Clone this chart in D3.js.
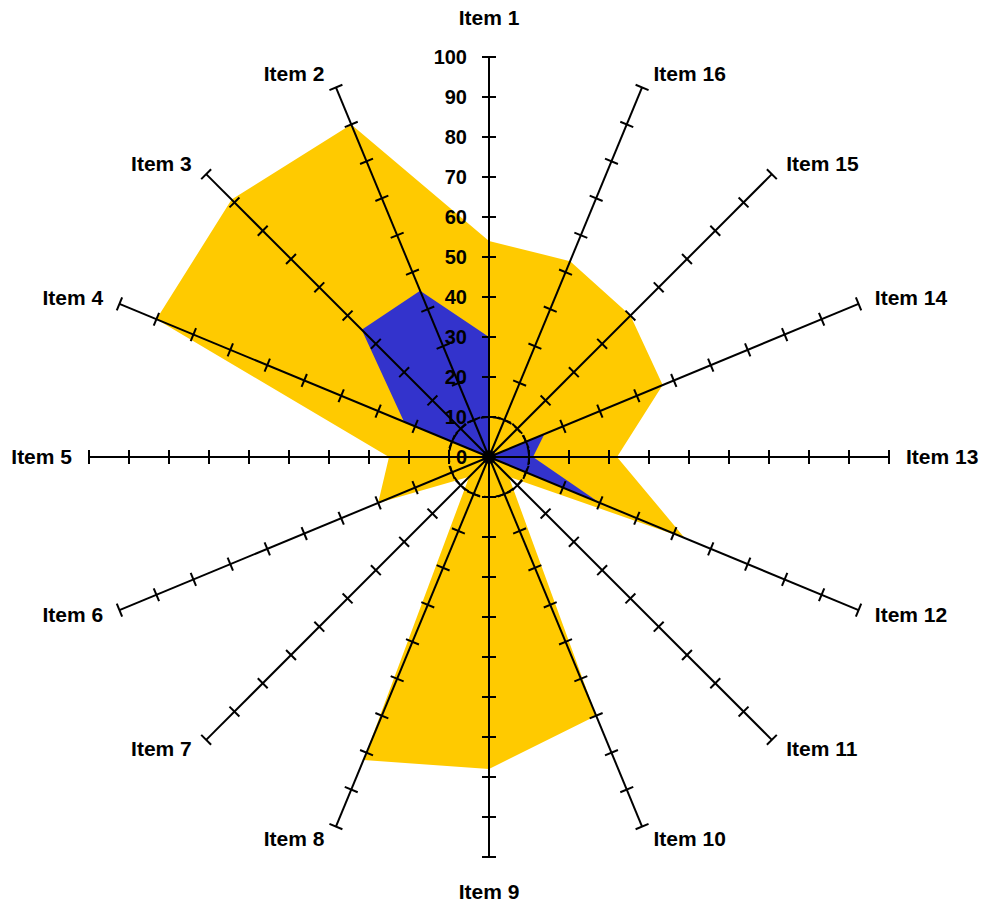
<!DOCTYPE html>
<html>
<head>
<meta charset="utf-8">
<script src="https://cdn.jsdelivr.net/npm/d3@7"></script>
<style>
  html, body { margin: 0; padding: 0; background: #fff; }
  svg { display: block; }
  text { font-family: "Liberation Sans", Arial, sans-serif; font-weight: bold; fill: #000; }
</style>
</head>
<body>
<svg id="chart" width="984" height="902"></svg>
<script>
const categories = ["Item 1","Item 2","Item 3","Item 4","Item 5","Item 6","Item 7","Item 8",
                    "Item 9","Item 10","Item 11","Item 12","Item 13","Item 14","Item 15","Item 16"];
const seriesYellow = [54, 90, 91, 90, 25, 30, 7, 82, 78, 70, 7, 53, 32, 47, 50, 53];
const seriesBlue   = [30, 45, 45, 23, 0, 0, 0, 0, 0, 0, 0, 30, 11, 15, 0, 0];
const tickValues = [0, 10, 20, 30, 40, 50, 60, 70, 80, 90, 100];

const svg = d3.select("#chart");
const cx = 489, cy = 457, R = 400;
const r = d3.scaleLinear().domain([0, 100]).range([0, R]);
const n = categories.length;
const ang = i => -i * 2 * Math.PI / n;   // counter-clockwise from top
const pt = (i, v) => [cx + r(v) * Math.sin(ang(i)), cy - r(v) * Math.cos(ang(i))];

const g = svg.append("g");

// filled series
const line = d3.line().curve(d3.curveLinearClosed);
g.append("path")
  .attr("d", line(seriesYellow.map((v, i) => pt(i, v))))
  .attr("fill", "#FFCA00");
g.append("path")
  .attr("d", line(seriesBlue.map((v, i) => pt(i, v))))
  .attr("fill", "#3333CC");

// dashed ring at 10
g.append("circle")
  .attr("cx", cx).attr("cy", cy).attr("r", r(10))
  .attr("fill", "none").attr("stroke", "#000").attr("stroke-width", 2)
  .attr("stroke-dasharray", "8,4");

// axes
categories.forEach((c, i) => {
  const [x1, y1] = pt(i, 100);
  g.append("line")
    .attr("x1", cx).attr("y1", cy).attr("x2", x1).attr("y2", y1)
    .attr("stroke", "#000").attr("stroke-width", 2);
  const a = ang(i);
  const px = Math.cos(a), py = Math.sin(a); // perpendicular direction
  tickValues.forEach(t => {
    const [tx, ty] = pt(i, t);
    g.append("line")
      .attr("x1", tx - 7 * px).attr("y1", ty - 7 * py)
      .attr("x2", tx + 7 * px).attr("y2", ty + 7 * py)
      .attr("stroke", "#000").attr("stroke-width", 2);
  });
});

// tick labels along Item 1 axis
tickValues.forEach(t => {
  g.append("text")
    .attr("x", cx - 22).attr("y", cy - r(t))
    .attr("dy", "0.36em")
    .attr("text-anchor", "end")
    .attr("font-size", 20)
    .text(t);
});

// category labels
categories.forEach((c, i) => {
  const a = ang(i);
  const s = Math.sin(a), co = Math.cos(a);
  const [ex, ey] = pt(i, 100);
  let x, y, anchor;
  if (Math.abs(s) < 0.01) {
    anchor = "middle";
    x = ex;
    y = co > 0 ? ey - 40 : ey + 34;
  } else {
    anchor = s > 0 ? "start" : "end";
    x = ex + (s > 0 ? 1 : -1) * (8 + 9 * Math.abs(s));
    y = ey - co * 14 - 1;
  }
  g.append("text")
    .attr("x", x).attr("y", y)
    .attr("dy", "0.36em")
    .attr("text-anchor", anchor)
    .attr("font-size", 21)
    .text(c);
});
</script>
</body>
</html>
